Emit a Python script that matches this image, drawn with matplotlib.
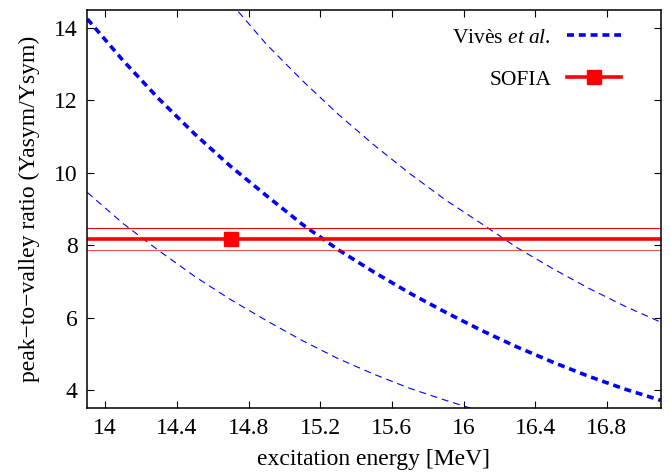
import matplotlib
matplotlib.use("Agg")
import matplotlib.pyplot as plt
from matplotlib.ticker import FormatStrFormatter, FixedLocator

plt.rcParams['font.family'] = ['Liberation Serif', 'DejaVu Serif']
plt.rcParams['mathtext.fontset'] = 'custom'
plt.rcParams['mathtext.rm'] = 'Liberation Serif'
plt.rcParams['mathtext.it'] = 'Liberation Serif:italic'
plt.rcParams['lines.scale_dashes'] = False

# Vivès et al. prediction (central, upper, lower)
vives_x = [13.9, 14.1, 14.3, 14.5, 14.7, 14.9, 15.1, 15.3, 15.5, 15.7,
           15.9, 16.1, 16.3, 16.5, 16.7, 16.9, 17.1]
vives_y = [14.25, 13.1, 12.04, 11.07, 10.18, 9.37, 8.58, 7.88, 7.26, 6.68,
           6.15, 5.65, 5.19, 4.77, 4.38, 4.03, 3.72]

upper_x = [14.7, 14.9, 15.1, 15.3, 15.5, 15.7, 15.9, 16.1, 16.3, 16.5,
           16.7, 16.9, 17.1]
upper_y = [14.7, 13.55, 12.55, 11.62, 10.77, 9.98, 9.25, 8.6, 7.93, 7.35,
           6.81, 6.32, 5.88]

lower_x = [13.9, 14.1, 14.3, 14.5, 14.7, 14.9, 15.1, 15.3, 15.5, 15.7,
           15.9, 16.1]
lower_y = [9.46, 8.6, 7.85, 7.14, 6.5, 5.92, 5.37, 4.87, 4.44, 4.05,
           3.72, 3.41]

# SOFIA measurement
sofia_x = [14.7]
sofia_y = [8.17]
sofia_err = [0.30]

x_ticks = [14, 14.4, 14.8, 15.2, 15.6, 16, 16.4, 16.8]
y_ticks = [4, 6, 8, 10, 12, 14]

fs = 17

fig = plt.figure(figsize=(6.7, 4.72), dpi=100)
ax = fig.add_axes([0.1303, 0.135, 0.8557, 0.844])

blue = '#0000ff'
red = '#ff0000'

ax.plot(vives_x, vives_y, color=blue, lw=2.6, dashes=(5.0, 3.5),
        label=r'Vivès $\mathit{et\ al.}$')
ax.plot(upper_x, upper_y, color=blue, lw=0.8, dashes=(5.0, 3.5))
ax.plot(lower_x, lower_y, color=blue, lw=0.8, dashes=(5.0, 3.5))

ax.axhline(sofia_y[0], color=red, lw=2.6)
ax.axhline(sofia_y[0] + sofia_err[0], color=red, lw=0.8)
ax.axhline(sofia_y[0] - sofia_err[0], color=red, lw=0.8, alpha=0.7)
ax.plot(sofia_x, sofia_y, color=red, lw=2.6, marker='s', markersize=9.5,
        linestyle='none')

# legend handle for SOFIA: line with square marker
ax.plot([], [], color=red, lw=2.6, marker='s', markersize=9.5, label='SOFIA')

ax.set_xlim(13.9, 17.1)
ax.set_ylim(3.5, 14.5)
ax.xaxis.set_major_locator(FixedLocator(x_ticks))
ax.yaxis.set_major_locator(FixedLocator(y_ticks))
ax.xaxis.set_major_formatter(FormatStrFormatter('%g'))
ax.yaxis.set_major_formatter(FormatStrFormatter('%g'))
ax.tick_params(direction='in', top=True, right=True, length=5, width=0.8,
               labelsize=fs, pad=7)
for sp in ax.spines.values():
    sp.set_linewidth(1.1)

ax.set_xlabel('excitation energy [MeV]', fontsize=fs, labelpad=7)
ax.set_ylabel('peak\u2212to\u2212valley ratio (Yasym/Ysym)', fontsize=fs,
              labelpad=10)

leg = ax.legend(loc='upper right', bbox_to_anchor=(0.95, 0.982),
                frameon=False, markerfirst=False, fontsize=15.5,
                handlelength=2.5, handletextpad=0.75, labelspacing=1.0,
                borderpad=0, numpoints=1)

fig.savefig('out.png', dpi=100)
